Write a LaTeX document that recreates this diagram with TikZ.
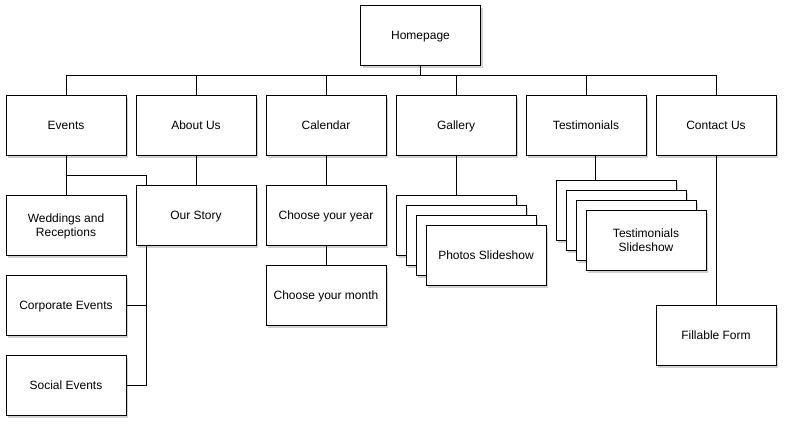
\documentclass[tikz,border=0pt]{standalone}
\usepackage{fontspec}
\setmainfont{Liberation Sans}
\usetikzlibrary{shadows,backgrounds}
\begin{document}
\begin{tikzpicture}[x=1pt,y=-1pt,
  pagebox/.style={draw=black, fill=white, line width=1pt, minimum width=120pt, minimum height=60pt,
    inner sep=2pt, align=center, text depth=0pt, font=\fontsize{12}{14}\selectfont,
    drop shadow={shadow xshift=2pt, shadow yshift=-2pt, opacity=0.18, fill=black}},
  link/.style={draw=black, line width=1pt}]
\useasboundingbox (0,0) rectangle (792,432);
\node[pagebox] (home) at (420.5,35.5) {Homepage};
\node[pagebox] (events) at (66,125.5) {Events};
\node[pagebox] (about) at (196,125.5) {About Us};
\node[pagebox] (cal) at (326,125.5) {Calendar};
\node[pagebox] (gal) at (456,125.5) {Gallery};
\node[pagebox] (tes) at (586,125.5) {Testimonials};
\node[pagebox] (con) at (716,125.5) {Contact Us};
\node[pagebox] (wed) at (66,225.5) {Weddings and\\Receptions};
\node[pagebox] (corp) at (66,305.5) {Corporate Events};
\node[pagebox] (social) at (66,385.5) {Social Events};
\node[pagebox] (story) at (196,215.5) {Our Story};
\node[pagebox] (year) at (326,215.5) {Choose your year};
\node[pagebox] (month) at (326,295.5) {Choose your month};
\node[pagebox] (g1) at (456,225.5) {};
\node[pagebox] (g2) at (466,235.5) {};
\node[pagebox] (g3) at (476,245.5) {};
\node[pagebox] (g4) at (486,255.5) {Photos Slideshow};
\node[pagebox] (t1) at (616,210.5) {};
\node[pagebox] (t2) at (626,220.5) {};
\node[pagebox] (t3) at (636,230.5) {};
\node[pagebox] (t4) at (646,240.5) {Testimonials\\Slideshow};
\node[pagebox] (form) at (716,335.5) {Fillable Form};
\coordinate (bus) at (0,75.5);
\coordinate (evj) at (146,175.5);
\coordinate (tx) at (595.5,0);
\begin{pgfonlayer}{background}
\foreach \c in {events,about,cal,gal,tes,con}
  \draw[link] (home.south) -- (home.south |- bus) -| (\c.north);
\draw[link] (events.south) -- (wed.north);
\draw[link] (events.south |- evj) -- (evj) -- (evj |- social.east) -- (social.east);
\draw[link] (evj |- corp.east) -- (corp.east);
\draw[link] (about.south) -- (story.north);
\draw[link] (cal.south) -- (year.north);
\draw[link] (year.south) -- (month.north);
\draw[link] (gal.south) -- (g1.north);
\draw[link] (tes.south -| tx) -- (t1.north -| tx);
\draw[link] (con.south) -- (form.north);
\end{pgfonlayer}
\end{tikzpicture}
\end{document}
